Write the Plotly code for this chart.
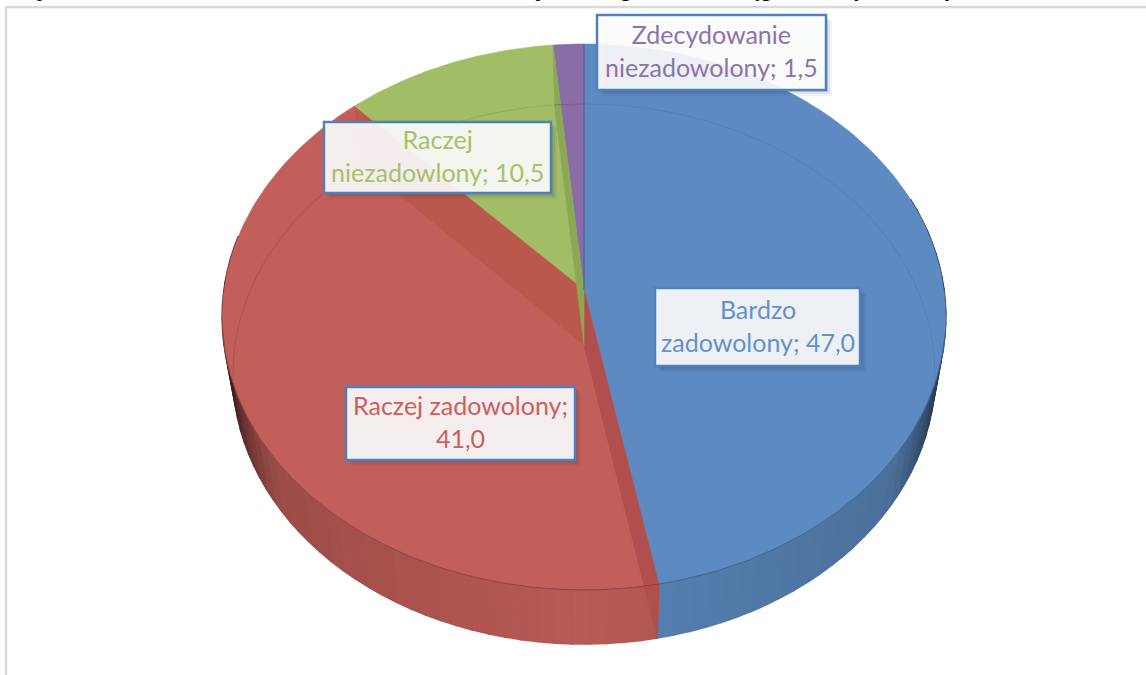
import numpy as np
import plotly.graph_objects as go

# ---- data
categories = ["Bardzo zadowolony", "Raczej zadowolony", "Raczej niezadowlony", "Zdecydowanie niezadowolony"]
values = [47.0, 41.0, 10.5, 1.5]
label_lines = [["Bardzo", "zadowolony; 47,0"], ["Raczej zadowolony;", "41,0"],
               ["Raczej", "niezadowlony; 10,5"], ["Zdecydowanie", "niezadowolony; 1,5"]]
top_colors = ["#5D8AC0", "#C35F5A", "#A2BD66", "#8A6CA6"]
text_colors = ["#6492C8", "#C9605D", "#A5C26B", "#8E72AC"]
wall_colors = ["#B04F4E", "#B9594B", "#8BA855"]
edge_colors = ["#4F7DB5", "#A94A48", "#8DA958", "#77598F"]
# clipped in the reference: only the letter bottoms show, so the wording is a placeholder
title_text = "Wykres 5. Ocena zadowolenia osób ankietowanych z ulg i zniżek ciągu roku (odsetek)"

# ---- label boxes: x0, y0, x1, y1 in pixels
label_boxes = [(655, 288, 860, 366), (346, 387, 575, 460), (324, 122, 551, 193), (597, 15, 826, 90)]

# ---- perspective projection of the two disc faces
TOP = dict(cx=584, cy=290, q=360.0, p=270.3, k=0.0989)
BOTTOM = dict(cx=584, cy=345, q=349.0, p=266.9, k=0.1074)


def project(face, phi_deg):
    phi = np.radians(phi_deg)
    u, v = np.sin(phi), np.cos(phi)
    d = 1 + face["k"] * v
    return face["cx"] + face["q"] * u / d, face["cy"] - face["p"] * v / d


def shade(hex_color, f):
    r, g, b = int(hex_color[1:3], 16), int(hex_color[3:5], 16), int(hex_color[5:7], 16)
    return "rgb(%d,%d,%d)" % (r * f, g * f, b * f)


fig = go.Figure()


def poly(xs, ys, color, width=0.6):
    fig.add_trace(go.Scatter(x=list(xs), y=list(ys), mode="lines", fill="toself", fillcolor=color,
                             line=dict(color=color, width=width),
                             hoverinfo="skip", showlegend=False))


def stroke(xs, ys, color, width=1):
    fig.add_trace(go.Scatter(x=list(xs), y=list(ys), mode="lines", line=dict(color=color, width=width),
                             hoverinfo="skip", showlegend=False))


cum = np.concatenate([[0], np.cumsum(values)]) / sum(values) * 360

# side wall, split in narrow strips so it can darken towards the edges
for i in range(2):
    start, end = cum[i], cum[i + 1]
    edges = np.linspace(start, end, int(round((end - start) / 2.5)) + 1)
    for a0, a1 in zip(edges[:-1], edges[1:]):
        mid = (a0 + a1) / 2
        if not 70 < mid < 282:
            continue
        s = abs(np.sin(np.radians(mid)))
        f = 0.95 - 0.14 * min(s / 0.8, 1) - 0.55 * max(0, (s - 0.8) / 0.2) ** 1.4
        ang = np.array([a0, a1])
        tx, ty = project(TOP, ang)
        bx, by = project(BOTTOM, ang)
        poly([tx[0], tx[1], bx[1], bx[0], tx[0]], [ty[0], ty[1], by[1], by[0], ty[0]], shade(top_colors[i], f), 1.6)

# top faces
for i in range(4):
    ang = np.linspace(cum[i], cum[i + 1], 120)
    x, y = project(TOP, ang)
    poly(np.r_[TOP["cx"], x, TOP["cx"]], np.r_[TOP["cy"], y, TOP["cy"]], top_colors[i])

# inner walls, seen through the translucent disc
for j, bound in enumerate(cum[1:4]):
    tx, ty = project(TOP, bound)
    bx, by = project(BOTTOM, bound)
    poly([TOP["cx"], tx, bx, BOTTOM["cx"], TOP["cx"]], [TOP["cy"], ty, by, BOTTOM["cy"], TOP["cy"]], wall_colors[j])

# back arc of the lower disc, seen through the top, and front rim of the top
for i in range(4):
    ang = np.linspace(cum[i], cum[i + 1], 160)
    x, y = project(BOTTOM, ang)
    keep = (ang < 100) | (ang > 262)
    if keep.any():
        stroke(x[keep], y[keep], edge_colors[i], 0.8)
    x, y = project(TOP, ang)
    keep = (ang > 100) & (ang < 262)
    if keep.any():
        stroke(x[keep], y[keep], shade(top_colors[i], 0.72), 1)

# edge between the purple and the blue slice
ex, ey = project(TOP, 0.0)
stroke([TOP["cx"], ex], [TOP["cy"], ey], "#4A5F96", 1)

shapes = [
    dict(type="line", x0=6, x1=6, y0=7, y1=675, line=dict(color="#D9D9D9", width=2.5)),
    dict(type="line", x0=6, x1=1146, y0=7, y1=7, line=dict(color="#D9D9D9", width=2.5)),
]
annotations = [dict(x=0, y=1, xref="paper", yref="paper", xshift=13, yshift=-3, text="<b>%s</b>" % title_text,
                    showarrow=False, xanchor="left", yanchor="bottom",
                    font=dict(family="Liberation Sans", size=23, color="#000000"))]

for (x0, y0, x1, y1), lines, col in zip(label_boxes, label_lines, text_colors):
    for off, op in ((6, 0.06), (4, 0.08), (2, 0.1)):
        shapes.append(dict(type="rect", x0=x0 + off, x1=x1 + off, y0=y0 + off, y1=y1 + off,
                           fillcolor="rgba(30,40,60,%g)" % op, line=dict(width=0)))
    shapes.append(dict(type="rect", x0=x0, x1=x1, y0=y0, y1=y1, fillcolor="rgba(255,255,255,0.9)",
                       line=dict(color="#4F81BD", width=2.5)))
    annotations.append(dict(x=(x0 + x1) / 2, y=(y0 + y1) / 2 - 2, xref="x", yref="y", text="<br>".join(lines),
                            showarrow=False, font=dict(family="Lato", size=25, color=col), align="center",
                            xanchor="center", yanchor="middle"))

fig.update_layout(
    width=1146, height=675, margin=dict(l=0, r=0, t=0, b=0), showlegend=False,
    paper_bgcolor="#FFFFFF", plot_bgcolor="#FFFFFF",
    xaxis=dict(range=[0, 1146], visible=False, fixedrange=True),
    yaxis=dict(range=[675, 0], visible=False, fixedrange=True),
    shapes=shapes, annotations=annotations,
)
fig.write_html("out.html", config=dict(displayModeBar=False),
               post_script="document.body.style.margin='0';document.body.style.overflow='hidden';")
